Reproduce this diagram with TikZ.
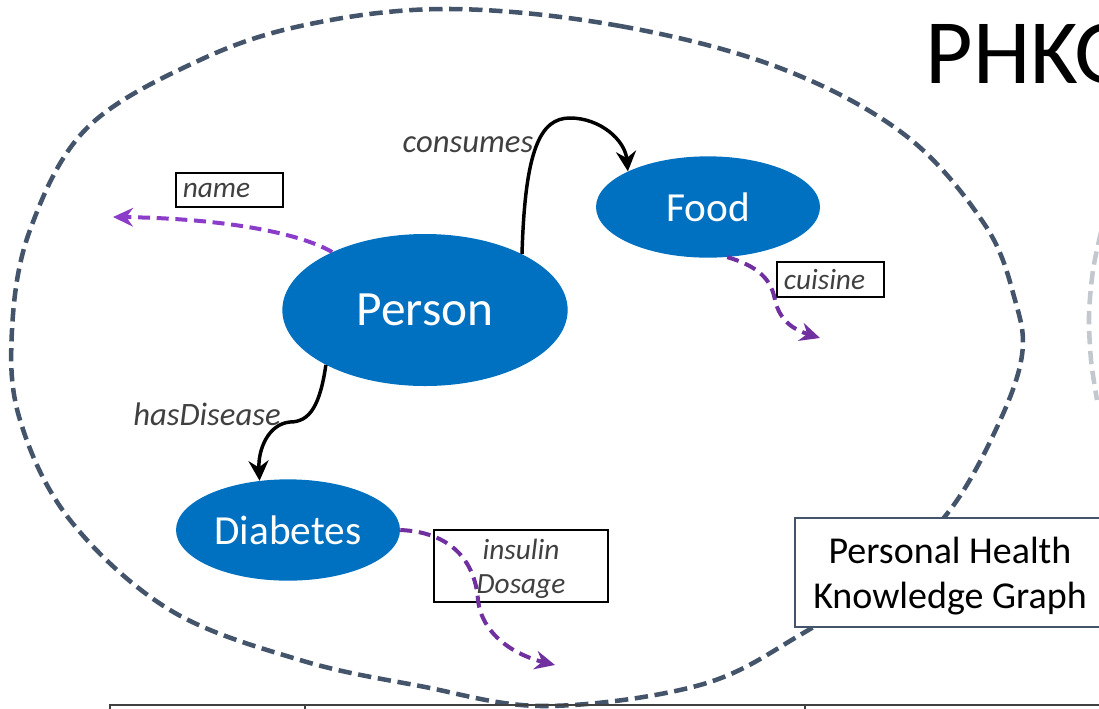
\documentclass[tikz,border=0pt]{standalone}
\usepackage{fontspec}
\setmainfont{Carlito}
\usetikzlibrary{shapes.geometric, arrows.meta}

\definecolor{nodeblue}{HTML}{0070C0}
\definecolor{slate}{HTML}{44546A}
\definecolor{purp}{HTML}{7030A0}
\definecolor{lightpurp}{HTML}{8B3DC9}
\definecolor{labelgrey}{HTML}{404040}
\definecolor{faintgrey}{HTML}{C3C7CE}

\tikzset{
  concept/.style={ellipse, fill=nodeblue, text=white, inner sep=0pt},
  relation/.style={line width=2.6pt, -{Stealth[length=15pt, width=15pt, inset=5pt]}},
  attr/.style={line width=3pt, dash pattern=on 9pt off 5pt, purp, -{Stealth[length=15pt, width=14pt, inset=5pt]}},
  attrbox/.style={draw, line width=1.2pt, text=labelgrey, font=\fontsize{22}{25.5}\selectfont\itshape, inner xsep=5pt, inner ysep=0pt},
  rellabel/.style={text=labelgrey, font=\fontsize{24.5}{28}\selectfont\itshape}
}

\begin{document}
\begin{tikzpicture}[x=0.75pt, y=-0.75pt]
        \useasboundingbox (0,0) rectangle (1099,708);
        \clip (0,0) rectangle (1099,708);

        % graph outline
        \draw[slate, line width=3.4pt, dash pattern=on 10pt off 5pt]
          plot[smooth cycle, tension=0.6] coordinates {(450,9) (620,26) (780,68) (905,135) (985,225) (1015,300) (1022,355) (998,425) (950,510) (880,580) (800,635) (700,685) (545,706) (420,686) (300,660) (170,610) (70,520) (20,420) (12,330) (30,230) (87,128) (200,60) (310,24)};
        \draw[faintgrey, line width=3.4pt, dash pattern=on 10pt off 5pt]
          plot[smooth] coordinates {(1101,232) (1093,270) (1089,315) (1091,360) (1097,400)};

        % table edge
        \draw[labelgrey, line width=1.5pt] (110,710) -- (110,705) -- (1100,705);
        \draw[labelgrey, line width=1.5pt] (305,705) -- (305,710);
        \draw[labelgrey, line width=1.5pt] (805,705) -- (805,710);

        % title and caption
        \node (title) [anchor=base west, font=\fontsize{69}{80}\selectfont] at (921,83) {PHKG};
        \draw[slate, line width=1.2pt, fill=white] (795,518) rectangle (1102,627);
        \node (caption) [align=center, font=\fontsize{28.5}{34}\selectfont] at (950,576) {Personal Health\\Knowledge Graph};

        % nodes
        \node (person) [concept, minimum width=214pt, minimum height=114pt, font=\fontsize{37}{42}\selectfont] at (425,310) {Person};
        \node (food) [concept, minimum width=168pt, minimum height=76pt, font=\fontsize{31}{36}\selectfont] at (708,207) {Food};
        \node (diabetes) [concept, minimum width=168pt, minimum height=76pt, font=\fontsize{31}{36}\selectfont] at (288,530) {Diabetes};

        % attribute boxes
        \node (namebox) [attrbox, text width=70pt, align=left, minimum height=25.5pt] at (229.5,190) {name};
        \node (cuisinebox) [attrbox, text width=70pt, align=left, minimum height=26pt] at (830.5,279.5) {cuisine};
        \node (dosagebox) [attrbox, minimum width=130.5pt, minimum height=54pt, align=center] at (521,566) {\rule{0pt}{20pt}insulin\\Dosage};

        \coordinate (nameend) at (113,217);
        \coordinate (cuisineend) at (820,338);
        \coordinate (dosageend) at (555,665);

        % edges
        \draw[relation] (person.30) .. controls (525,150) and (540,118) .. (570,118) .. controls (600,118) and (625,140) .. (food.156);
        \draw[relation] (person.209) .. controls (320,405) and (310,422) .. (290,422) .. controls (268,424) and (258,450) .. (diabetes.120);
        \draw[attr, lightpurp] (person.148) .. controls (290,228) and (200,218) .. (nameend);
        \draw[attr] (food.291) .. controls (765,268) and (772,285) .. (775,300) .. controls (780,322) and (795,330) .. (cuisineend);
        \draw[attr] (diabetes.0) .. controls (450,532) and (475,560) .. (478,600) .. controls (482,635) and (515,655) .. (dosageend);

        % labels
        \node (consumes) [rellabel] at (468,145) {consumes};
        \node (hasdisease) [rellabel] at (207,414) {hasDisease};
    \end{tikzpicture}
\end{document}
